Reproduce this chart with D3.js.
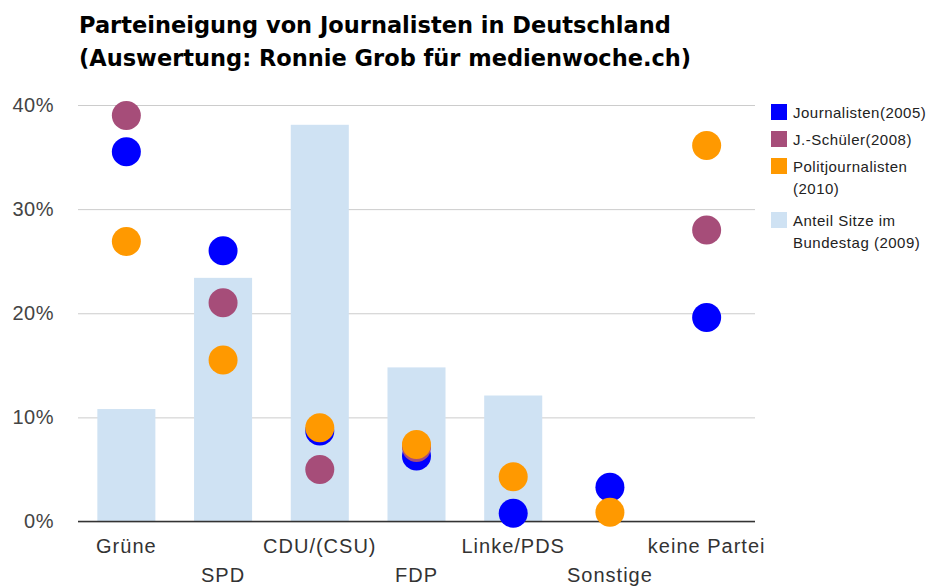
<!DOCTYPE html>
<html lang="de">
  <head>
    <meta charset="utf-8">
    <title>Parteineigung von Journalisten</title>
    <script src="https://d3js.org/d3.v7.min.js"></script>
    <style>
      body { margin: 0; background: #fff; }
    </style>
  </head>
  <body>
    <svg id="chart" width="935" height="586"></svg>

    <script type="text/javascript">
    // data (values in %)
    var parties = ["Grüne", "SPD", "CDU/(CSU)", "FDP", "Linke/PDS", "Sonstige", "keine Partei"];
    var sitze2009 = [10.8, 23.4, 38.1, 14.8, 12.1, null, null];
    var journalisten2005 = [35.5, 26.0, 8.7, 6.3, 0.8, 3.3, 19.6];
    var schueler2008 = [39.0, 21.0, 5.0, 7.1, null, null, 28.0];
    var politjournalisten2010 = [26.9, 15.5, 9.0, 7.4, 4.3, 0.9, 36.1];
    var yTicks = [0, 10, 20, 30, 40];

    var series = [
      { name: ["Journalisten(2005)"], values: journalisten2005, color: "#0000ff" },
      { name: ["J.-Schüler(2008)"], values: schueler2008, color: "#a64d79" },
      { name: ["Politjournalisten", "(2010)"], values: politjournalisten2010, color: "#ff9900" }
    ];

    var svg = d3.select("#chart");

    // scales
    var x = d3.scaleBand()
      .domain(parties)
      .range([78, 755])
      .paddingInner(0.4)
      .paddingOuter(0.2);

    var y = d3.scaleLinear()
      .domain([0, 40])
      .range([521.5, 105]);

    // title
    svg.append("text")
      .attr("x", 79).attr("y", 33)
      .style("font", "bold 22.5px 'DejaVu Sans'")
      .attr("fill", "#000")
      .text("Parteineigung von Journalisten in Deutschland");
    svg.append("text")
      .attr("x", 79).attr("y", 66)
      .style("font", "bold 22.5px 'DejaVu Sans'")
      .attr("fill", "#000")
      .text("(Auswertung: Ronnie Grob für medienwoche.ch)");

    // gridlines + y labels
    var yAxis = d3.axisLeft(y)
      .tickValues(yTicks)
      .tickSize(-(755 - 78))
      .tickPadding(24)
      .tickFormat(function(d){ return d + "%"; });

    var gy = svg.append("g")
      .attr("transform", "translate(78,0)")
      .call(yAxis);
    gy.select(".domain").remove();
    gy.selectAll(".tick line").attr("stroke", "#cccccc");
    gy.selectAll(".tick text")
      .attr("fill", "#444")
      .style("font", "20px 'Liberation Sans'")
      .style("letter-spacing", "0.5px");

    // seat share bars
    svg.append("g").selectAll("rect")
      .data(parties.map(function(p, i){ return { p: p, v: sitze2009[i] }; })
        .filter(function(d){ return d.v !== null; }))
      .enter()
      .append("rect")
      .attr("x", function(d){ return x(d.p); })
      .attr("width", x.bandwidth())
      .attr("y", function(d){ return y(d.v); })
      .attr("height", function(d){ return y(0) - y(d.v); })
      .attr("fill", "#cfe2f3");

    // baseline
    var gx = svg.append("g")
      .attr("transform", "translate(0," + y(0) + ")")
      .call(d3.axisBottom(x).tickSize(0).tickPadding(0));
    gx.select(".domain")
      .attr("d", "M78,0H755")
      .attr("stroke", "#333")
      .attr("stroke-width", 1.5);
    gx.selectAll(".tick text")
      .attr("dy", null)
      .attr("y", function(d, i){ return i % 2 === 0 ? 31 : 60; })
      .attr("fill", "#333")
      .style("font", "20px 'Liberation Sans'")
      .style("letter-spacing", "1px");

    // points
    series.forEach(function(s){
      svg.append("g").selectAll("circle")
        .data(parties.map(function(p, i){ return { p: p, v: s.values[i] }; })
          .filter(function(d){ return d.v !== null; }))
        .enter()
        .append("circle")
        .attr("cx", function(d){ return x(d.p) + x.bandwidth() / 2; })
        .attr("cy", function(d){ return y(d.v); })
        .attr("r", 14.5)
        .attr("fill", s.color);
    });

    // legend
    var legendItems = series.map(function(s){ return { name: s.name, color: s.color }; })
      .concat([{ name: ["Anteil Sitze im", "Bundestag (2009)"], color: "#cfe2f3" }]);
    var legendY = [104, 131, 158, 212];

    var lg = svg.append("g").selectAll("g")
      .data(legendItems)
      .enter()
      .append("g")
      .attr("transform", function(d, i){ return "translate(771," + legendY[i] + ")"; });
    lg.append("rect")
      .attr("width", 16).attr("height", 16)
      .attr("fill", function(d){ return d.color; });
    lg.each(function(d){
      var g = d3.select(this);
      d.name.forEach(function(line, j){
        g.append("text")
          .attr("x", 22)
          .attr("y", 14 + j * 21.5)
          .attr("fill", "#222")
          .style("font", "15px 'Liberation Sans'")
          .style("letter-spacing", "0.5px")
          .text(line);
      });
    });
    </script>
  </body>
</html>
